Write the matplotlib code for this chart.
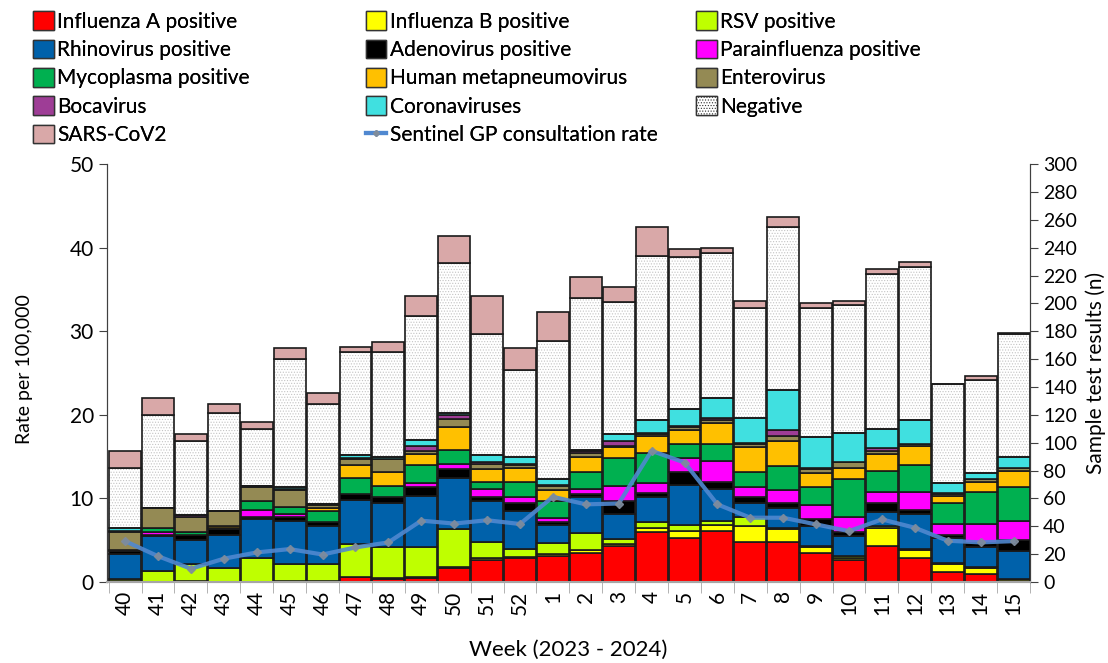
import numpy as np
import matplotlib
matplotlib.use('Agg')
import matplotlib.pyplot as plt
from matplotlib.ticker import MultipleLocator, FixedLocator
from matplotlib.lines import Line2D
from matplotlib.patches import Patch

plt.rcParams['font.family'] = ['Lato', 'DejaVu Sans']
plt.rcParams['hatch.linewidth'] = 0.5

weeks = ['40', '41', '42', '43', '44', '45', '46', '47', '48', '49', '50', '51', '52',
         '1', '2', '3', '4', '5', '6', '7', '8', '9', '10', '11', '12', '13', '14', '15']

# sample counts (n) per week
flu_a  = [1, 0, 1, 0, 0, 1, 1, 4, 2, 3, 10, 16, 17, 19, 21, 26, 36, 32, 37, 29, 29, 21, 16, 26, 17, 7, 6, 1]
flu_b  = [0, 0, 0, 0, 0, 0, 0, 0, 1, 1, 1, 1, 1, 1, 2, 1, 3, 5, 4, 11, 9, 4, 1, 13, 6, 6, 4, 1]
rsv    = [1, 8, 12, 10, 17, 12, 12, 23, 22, 21, 27, 12, 6, 8, 12, 4, 4, 4, 3, 7, 1, 1, 2, 1, 1, 1, 1, 0]
rhino  = [18, 25, 17, 24, 28, 31, 27, 32, 32, 37, 37, 29, 27, 13, 26, 18, 18, 29, 23, 10, 14, 14, 14, 10, 25, 18, 14, 20]
adeno  = [2, 1, 4, 4, 2, 3, 3, 4, 4, 6, 6, 3, 6, 2, 2, 9, 3, 9, 5, 4, 4, 5, 3, 7, 3, 2, 3, 8]
para   = [0, 2, 0, 0, 5, 2, 0, 0, 0, 3, 4, 6, 4, 3, 4, 11, 7, 10, 15, 7, 9, 10, 11, 8, 13, 8, 14, 14]
myco   = [0, 3, 2, 1, 6, 5, 8, 12, 8, 13, 10, 5, 11, 12, 12, 20, 22, 10, 12, 11, 17, 13, 27, 15, 19, 15, 23, 24]
hmpv   = [1, 0, 0, 1, 0, 0, 2, 9, 10, 8, 16, 9, 10, 8, 11, 8, 12, 10, 15, 18, 18, 10, 8, 12, 14, 5, 7, 12]
entero = [13, 14, 11, 11, 10, 12, 2, 4, 9, 2, 6, 4, 2, 3, 3, 1, 1, 2, 2, 2, 4, 3, 4, 2, 1, 1, 2, 2]
boca   = [1, 0, 1, 0, 1, 1, 1, 1, 0, 4, 3, 1, 1, 1, 1, 3, 1, 1, 2, 1, 4, 1, 0, 2, 0, 1, 0, 0]
corona = [2, 0, 0, 0, 0, 1, 0, 2, 2, 4, 1, 5, 5, 4, 1, 5, 9, 12, 14, 18, 29, 22, 21, 14, 17, 7, 4, 8]
negative = [43, 67, 53, 70, 41, 92, 72, 74, 75, 89, 108, 87, 62, 99, 109, 95, 118, 109, 104, 79, 117, 93, 92, 111, 110, 71, 67, 88]
sars   = [12, 12, 5, 7, 5, 8, 8, 4, 7, 14, 19, 27, 16, 21, 15, 11, 21, 6, 4, 5, 7, 3, 3, 4, 4, 0, 3, 1]

# sentinel GP consultation rate per 100,000
gp_rate = [4.9, 3.1, 1.6, 2.8, 3.55, 3.95, 3.3, 4.15, 4.75, 7.35, 7.0, 7.4, 6.95, 10.2, 9.3, 9.4,
           15.7, 14.3, 9.3, 7.7, 7.7, 6.9, 6.1, 7.5, 6.5, 4.95, 4.75, 4.9]

series = [
    ('Influenza A positive', flu_a, '#FF0000'),
    ('Influenza B positive', flu_b, '#FFFF00'),
    ('RSV positive', rsv, '#BFFF00'),
    ('Rhinovirus positive', rhino, '#0061AA'),
    ('Adenovirus positive', adeno, '#000000'),
    ('Parainfluenza positive', para, '#FF00FF'),
    ('Mycoplasma positive', myco, '#00B050'),
    ('Human metapneumovirus', hmpv, '#FFC000'),
    ('Enterovirus', entero, '#948A54'),
    ('Bocavirus', boca, '#9E3D96'),
    ('Coronaviruses', corona, '#40E0E0'),
    ('Negative', negative, 'white'),
    ('SARS-CoV2', sars, '#D9A8A8'),
]

fig = plt.figure(figsize=(11.08, 6.63), dpi=100)
ax = fig.add_axes([0.0966, 0.122, 0.833, 0.6306])
ax2 = ax.twinx()

x = np.arange(len(weeks))
bw = 0.97
bottom = np.zeros(len(weeks))
handles = {}
for name, vals, col in series:
    vals = np.array(vals, dtype=float)
    if name == 'Negative':
        ax.bar(x, vals, bw, bottom=bottom, color='white', edgecolor='#c4c4c4',
               hatch='......', linewidth=0, zorder=2)
        ax.bar(x, vals, bw, bottom=bottom, fill=False, edgecolor='#1a1a1a',
               linewidth=1.2, zorder=3)
        handles[name] = Patch(facecolor='white', edgecolor='#333333', hatch='......', label=name)
    else:
        ax.bar(x, vals, bw, bottom=bottom, color=col, edgecolor='#1a1a1a',
               linewidth=1.2, zorder=3)
        handles[name] = Patch(facecolor=col, edgecolor='#333333', label=name)
    bottom += vals

# bars on the n-scale (shown on the right), line on the rate scale (shown on the left)
ax.set_ylim(0, 300)
ax.set_xlim(-0.55, len(weeks) - 0.5)
ax.yaxis.tick_right()
ax.yaxis.set_label_position('right')
ax.yaxis.set_major_locator(MultipleLocator(20))
ax.yaxis.set_minor_locator(MultipleLocator(60))
ax.grid(axis='y', which='minor', color='#a6a6a6', linewidth=1.5, zorder=0)
ax.set_axisbelow(True)
ax.tick_params(axis='y', which='minor', length=0)
ax.tick_params(axis='y', which='major', labelsize=14, length=6, color='#404040')
ax.set_ylabel('Sample test results (n)', fontsize=15, labelpad=6)

ax.set_xticks(x)
ax.set_xticklabels(weeks, rotation=90, fontsize=15)
ax.xaxis.set_minor_locator(FixedLocator(np.arange(-0.5, len(weeks), 1)))
ax.tick_params(axis='x', which='major', length=0, pad=6)
ax.tick_params(axis='x', which='minor', length=8, color='#a6a6a6')
ax.set_xlabel('Week (2023 - 2024)', fontsize=16, labelpad=18)

ax2.plot(x, gp_rate, color='#5088D0', linewidth=3, alpha=0.9, marker='D',
         markersize=4, markerfacecolor='#7f8c9c', markeredgecolor='#7f8c9c', zorder=5)
ax2.set_ylim(0, 50)
ax2.yaxis.tick_left()
ax2.yaxis.set_label_position('left')
ax2.yaxis.set_major_locator(MultipleLocator(10))
ax2.tick_params(axis='y', labelsize=15, length=6, color='#404040')
ax2.set_ylabel('Rate per 100,000', fontsize=14)
ax2.yaxis.set_label_coords(-0.080, 0.51)

for a in (ax, ax2):
    a.spines['top'].set_visible(False)
    a.spines['bottom'].set_color('#a6a6a6')
    a.spines['bottom'].set_linewidth(1.5)
    a.spines['left'].set_color('#404040')
    a.spines['right'].set_color('#404040')

line_handle = Line2D([0], [0], color='#5088D0', linewidth=3, marker='D', markersize=3,
                     markerfacecolor='#7f8c9c', markeredgecolor='#7f8c9c',
                     label='Sentinel GP consultation rate')

columns = [
    (['Influenza A positive', 'Rhinovirus positive', 'Mycoplasma positive', 'Bocavirus', 'SARS-CoV2'], 0.030),
    (['Influenza B positive', 'Adenovirus positive', 'Human metapneumovirus', 'Coronaviruses', 'line'], 0.330),
    (['RSV positive', 'Parainfluenza positive', 'Enterovirus', 'Negative'], 0.628),
]
for names, xpos in columns:
    hs = [line_handle if n == 'line' else handles[n] for n in names]
    leg = fig.legend(handles=hs, loc='upper left', bbox_to_anchor=(xpos, 0.983),
                     frameon=False, fontsize=15, handlelength=1.0, handleheight=1.0,
                     handletextpad=0.15, labelspacing=0.38, borderpad=0, borderaxespad=0)
    fig.add_artist(leg)

fig.savefig('out.png', dpi=100)
